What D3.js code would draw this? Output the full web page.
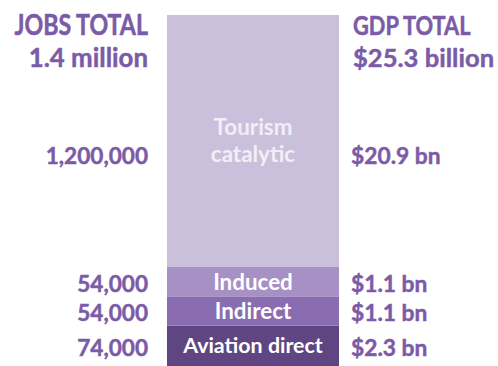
<!DOCTYPE html>
<html>
<head>
<meta charset="utf-8">
<script src="https://cdn.jsdelivr.net/npm/d3@7"></script>
<style>
  html, body { margin: 0; padding: 0; background: #ffffff; }
  svg { display: block; }
  text { font-family: Lato, "Open Sans", sans-serif; font-weight: 700; }
  .val, .head { stroke-width: 0.45px; paint-order: stroke; }
</style>
</head>
<body>
<svg id="chart" width="498" height="366"></svg>
<script>
// Economic contribution of aviation: jobs and GDP by component (bottom to top)
const categories = ["Aviation direct", "Indirect", "Induced", "Tourism catalytic"];
const categoryLines = [["Aviation direct"], ["Indirect"], ["Induced"], ["Tourism", "catalytic"]];
const jobs = [74000, 54000, 54000, 1200000];
const gdpBillions = [2.3, 1.1, 1.1, 20.9];
const jobsLabels = ["74,000", "54,000", "54,000", "1,200,000"];
const gdpLabels = ["$2.3 bn", "$1.1 bn", "$1.1 bn", "$20.9 bn"];
const jobsTotal = ["JOBS TOTAL", "1.4 million"];
const gdpTotal = ["GDP TOTAL", "$25.3 billion"];

const fills = ["#5f4682", "#8a6cb0", "#a690c4", "#cbc0db"];
const textPurple = "#7b5ba7";

const svg = d3.select("#chart");
const barX0 = 167, barX1 = 339;
const barTop = 15, barBottom = 366, breakY = 267;

// Stack the job counts
const stacked = [];
jobs.reduce((acc, v, i) => {
  stacked.push({ i, y0: acc, y1: acc + v });
  return acc + v;
}, 0);
const smallTotal = stacked[2].y1;
const total = stacked[3].y1;

// Broken scale: the three small components are drawn to scale,
// the large tourism component is compressed into the remaining height
const y = d3.scaleLinear()
  .domain([0, smallTotal, total])
  .range([barBottom, breakY, barTop]);

const x = d3.scaleBand().domain(["total"]).range([barX0, barX1]).padding(0);

svg.selectAll("rect.seg")
  .data(stacked)
  .join("rect")
  .attr("class", "seg")
  .attr("x", x("total"))
  .attr("width", x.bandwidth())
  .attr("y", d => y(d.y1))
  .attr("height", d => y(d.y0) - y(d.y1))
  .attr("fill", d => fills[d.i]);

// Segment names inside the bar
const cx = x("total") + x.bandwidth() / 2;
const mid = d => (y(d.y0) + y(d.y1)) / 2;
const lineH = 27;
stacked.forEach(d => {
  const lines = categoryLines[d.i];
  lines.forEach((ln, k) => {
    svg.append("text")
      .attr("x", cx)
      .attr("y", mid(d) + (k - (lines.length - 1) / 2) * lineH)
      .attr("dy", "0.35em")
      .attr("text-anchor", "middle")
      .attr("font-size", d.i === 0 ? 21.4 : 22.4)
      .attr("fill", d.i === 3 ? "#f2eef7" : "#ffffff")
      .text(ln);
  });
});

// Value labels on both sides, level with the last line of each segment name
const labelY = d => mid(d) + ((categoryLines[d.i].length - 1) / 2) * lineH + 2;

svg.selectAll("text.jobs")
  .data(stacked)
  .join("text")
  .attr("class", "val jobs")
  .attr("x", 148)
  .attr("y", labelY)
  .attr("dy", "0.35em")
  .attr("text-anchor", "end")
  .attr("font-size", 22.6)
  .attr("fill", textPurple)
  .attr("stroke", textPurple)
  .text(d => jobsLabels[d.i]);

svg.selectAll("text.gdp")
  .data(stacked)
  .join("text")
  .attr("class", "val gdp")
  .attr("x", 351)
  .attr("y", labelY)
  .attr("dy", "0.35em")
  .attr("text-anchor", "start")
  .attr("font-size", 22.8)
  .attr("fill", textPurple)
  .attr("stroke", textPurple)
  .text(d => gdpLabels[d.i]);

// Totals in the header; the caption line is set in tall capitals
const headSizes = [[23.2, 25.8], [21.8, 25.6]];
const headStretch = [1.2, 1];
[[jobsTotal, 148, "end", headSizes[0]], [gdpTotal, 353, "start", headSizes[1]]].forEach(([lines, tx, anchor, sizes]) => {
  lines.forEach((ln, k) => {
    svg.append("text")
      .attr("class", "head")
      .attr("transform", `translate(${tx},${35 + k * 32}) scale(1,${headStretch[k]})`)
      .attr("text-anchor", anchor)
      .attr("font-size", sizes[k])
      .attr("fill", textPurple)
      .attr("stroke", textPurple)
      .text(ln);
  });
});
</script>
</body>
</html>
